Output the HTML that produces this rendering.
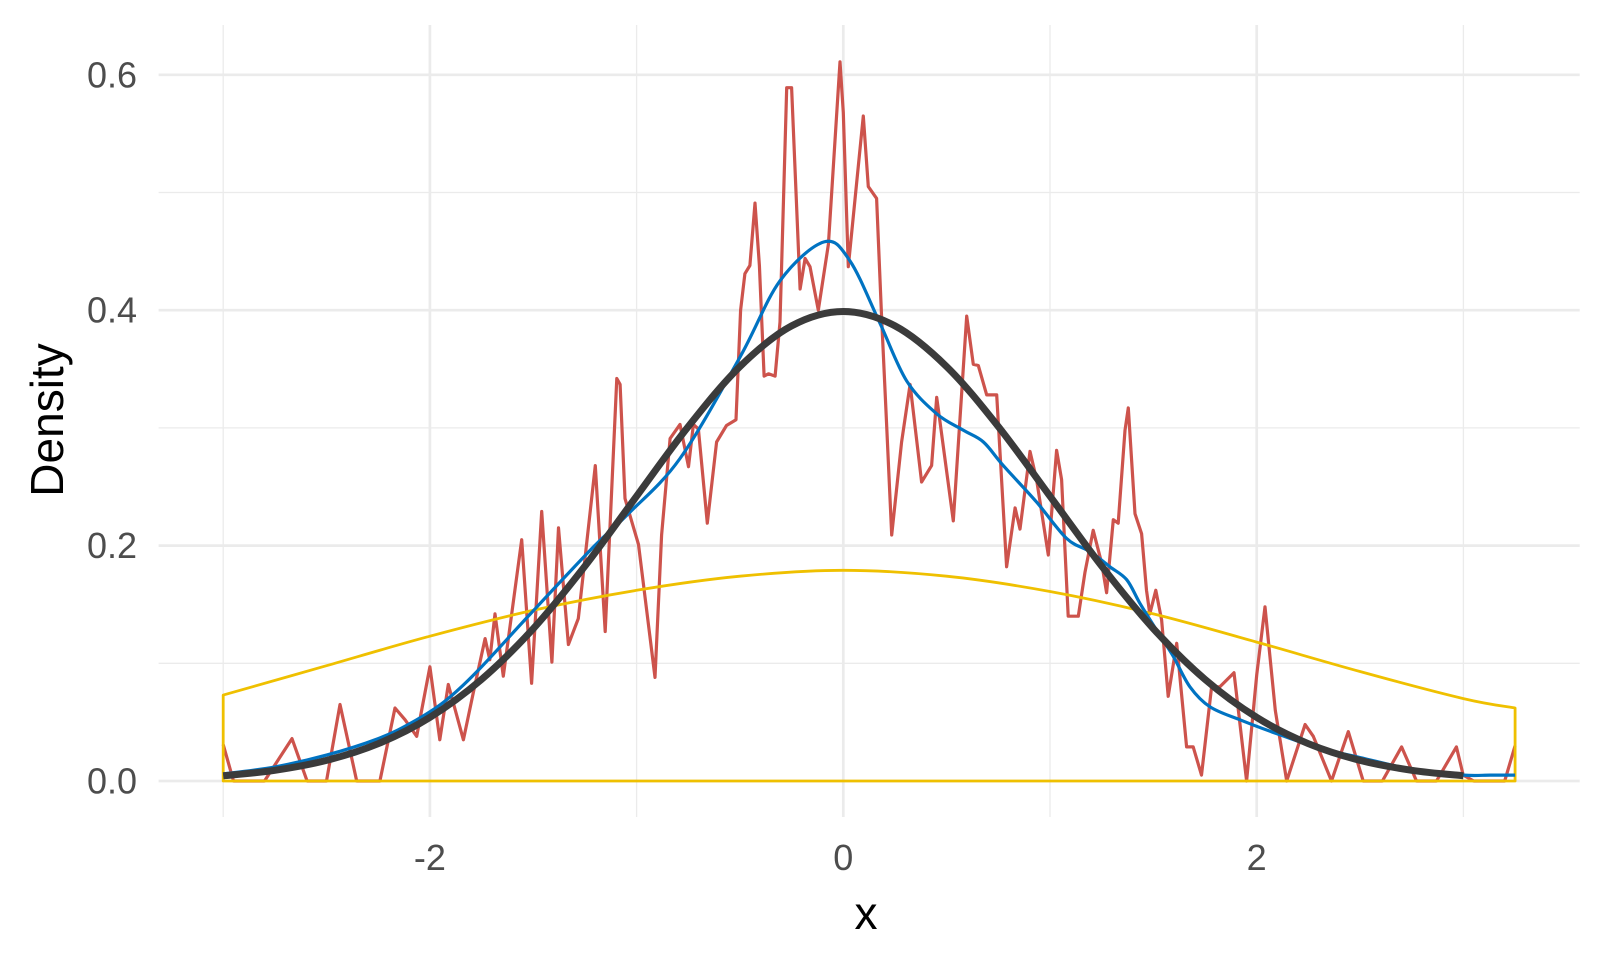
<!DOCTYPE html>
<html><head><meta charset="utf-8"><style>
html,body{margin:0;padding:0;background:#fff;}
svg{display:block;font-family:"Liberation Sans",sans-serif;}
</style></head><body>
<svg id="chart" width="1600" height="960" viewBox="0 0 1600 960" xmlns="http://www.w3.org/2000/svg">
<g id="grid"></g>
<g id="series"></g>
<g id="axes"></g>
<text x="0" y="0" transform="translate(63,420) rotate(-90)" text-anchor="middle" font-size="46" fill="#000">Density</text>
<text x="866" y="929" text-anchor="middle" font-size="46" fill="#000">x</text>
</svg>
<script>
const xTicksMajor=[-2,0,2];
const xTicksMinor=[-3,-1,1,3];
const yTicksMajor=[0,0.2,0.4,0.6];
const yTicksMinor=[0.1,0.3,0.5];
const xTickLabels=["-2","0","2"];
const yTickLabels=["0.0","0.2","0.4","0.6"];

const redX=[-3.0,-2.95,-2.8,-2.667,-2.594,-2.5,-2.435,-2.354,-2.242,-2.169,-2.12,-2.064,-2.0,-1.952,-1.911,-1.838,-1.79,-1.733,-1.71,-1.685,-1.645,-1.556,-1.508,-1.459,-1.41,-1.378,-1.33,-1.282,-1.2,-1.152,-1.096,-1.08,-1.056,-1.016,-0.991,-0.911,-0.879,-0.838,-0.79,-0.749,-0.725,-0.701,-0.658,-0.613,-0.565,-0.519,-0.497,-0.476,-0.452,-0.427,-0.406,-0.383,-0.362,-0.33,-0.306,-0.274,-0.25,-0.209,-0.185,-0.161,-0.121,-0.072,-0.016,0.0,0.024,0.097,0.121,0.161,0.185,0.209,0.234,0.282,0.323,0.379,0.427,0.452,0.532,0.597,0.629,0.653,0.694,0.742,0.79,0.831,0.855,0.903,0.935,0.992,1.032,1.056,1.088,1.137,1.169,1.209,1.25,1.274,1.306,1.33,1.363,1.379,1.411,1.443,1.467,1.483,1.512,1.54,1.572,1.613,1.661,1.693,1.733,1.782,1.822,1.89,1.951,2.0,2.04,2.09,2.145,2.234,2.274,2.362,2.443,2.515,2.608,2.701,2.773,2.87,2.966,2.999,3.05,3.2,3.25];
const redY=[0.031,0.0,0.0,0.036,0.0,0.0,0.065,0.0,0.0,0.062,0.052,0.038,0.097,0.035,0.082,0.035,0.075,0.121,0.103,0.142,0.089,0.205,0.083,0.229,0.101,0.215,0.116,0.138,0.268,0.127,0.342,0.337,0.24,0.216,0.201,0.088,0.209,0.291,0.303,0.267,0.303,0.299,0.219,0.288,0.302,0.307,0.4,0.431,0.438,0.491,0.438,0.344,0.346,0.344,0.39,0.589,0.589,0.418,0.444,0.437,0.4,0.456,0.611,0.568,0.437,0.565,0.505,0.495,0.396,0.305,0.209,0.288,0.337,0.254,0.268,0.326,0.221,0.395,0.354,0.353,0.328,0.328,0.182,0.232,0.214,0.28,0.256,0.192,0.281,0.256,0.14,0.14,0.177,0.213,0.185,0.16,0.222,0.219,0.298,0.317,0.227,0.21,0.162,0.142,0.162,0.137,0.072,0.117,0.029,0.029,0.005,0.08,0.08,0.092,0.0,0.09,0.148,0.06,0.0,0.048,0.038,0.0,0.042,0.0,0.0,0.029,0.0,0.0,0.029,0.005,0.0,0.0,0.03];

const blueX=[-3.0,-2.75,-2.5,-2.25,-2.094,-1.933,-1.772,-1.514,-1.208,-1.04,-0.79,-0.5,-0.306,-0.093,0.032,0.177,0.306,0.452,0.581,0.678,0.774,0.935,1.081,1.193,1.29,1.371,1.435,1.516,1.596,1.677,1.774,1.919,2.1,2.3,2.5,2.75,3.0,3.13,3.25];
const blueY=[0.006,0.012,0.022,0.036,0.049,0.067,0.093,0.142,0.199,0.227,0.274,0.36,0.425,0.458,0.442,0.389,0.34,0.312,0.298,0.288,0.268,0.237,0.206,0.195,0.182,0.171,0.151,0.128,0.106,0.08,0.063,0.052,0.04,0.028,0.02,0.01,0.005,0.005,0.005];

const yellowX=[-3.0,-2.5,-2.0,-1.5,-1.0,-0.5,0.0,0.5,1.0,1.5,2.0,2.5,3.0,3.25];
const yellowY=[0.073,0.098,0.123,0.145,0.162,0.174,0.179,0.174,0.161,0.142,0.118,0.093,0.07,0.062];

const normX=[-3,-2.75,-2.5,-2.25,-2,-1.75,-1.5,-1.25,-1,-0.75,-0.5,-0.25,0,0.25,0.5,0.75,1,1.25,1.5,1.75,2,2.25,2.5,2.75,3];
const normY=[0.0044,0.0091,0.0175,0.0317,0.054,0.0863,0.1295,0.1826,0.242,0.3011,0.3521,0.3867,0.3989,0.3867,0.3521,0.3011,0.242,0.1826,0.1295,0.0863,0.054,0.0317,0.0175,0.0091,0.0044];

const X0=843.3, XS=206.7, Y0=781, YS=1177;
const PL=158.6, PR=1579.7, PT=25, PB=817;
const sx=v=>X0+v*XS, sy=v=>Y0-v*YS;
const NS="http://www.w3.org/2000/svg";
function mk(tag,parent){const e=document.createElementNS(NS,tag);parent.appendChild(e);return e;}
const grid=document.getElementById('grid'), series=document.getElementById('series'), axes=document.getElementById('axes');

function gl(x1,y1,x2,y2,w){const l=mk('line',grid);l.setAttribute('x1',x1);l.setAttribute('y1',y1);l.setAttribute('x2',x2);l.setAttribute('y2',y2);l.setAttribute('stroke','#ebebeb');l.setAttribute('stroke-width',w);return l;}
yTicksMinor.forEach(v=>{const l=gl(PL,sy(v),PR,sy(v),1.3);

});
xTicksMinor.forEach(v=>{const l=gl(sx(v),PT,sx(v),PB,1.3);

});
yTicksMajor.forEach(v=>{const l=gl(PL,sy(v),PR,sy(v),2.7);

});
xTicksMajor.forEach(v=>{const l=gl(sx(v),PT,sx(v),PB,2.7);

});

yTicksMajor.forEach((v,i)=>{const t=mk('text',axes);t.textContent=yTickLabels[i];
t.setAttribute('x',137);t.setAttribute('y',sy(v)+12.5);t.setAttribute('text-anchor','end');t.setAttribute('font-size','36');t.setAttribute('fill','#4d4d4d');

});
xTicksMajor.forEach((v,i)=>{const t=mk('text',axes);t.textContent=xTickLabels[i];
t.setAttribute('x',sx(v));t.setAttribute('y',870);t.setAttribute('text-anchor','middle');t.setAttribute('font-size','36');t.setAttribute('fill','#4d4d4d');

});

function lin(xs,ys){return xs.map((x,i)=>(i?'L':'M')+sx(x).toFixed(1)+','+sy(ys[i]).toFixed(1)).join('');}
function smooth(xs,ys){const p=xs.map((x,i)=>[sx(x),sy(ys[i])]);let d='M'+p[0][0]+','+p[0][1];
for(let i=0;i<p.length-1;i++){const p0=p[i-1]||p[i],p1=p[i],p2=p[i+1],p3=p[i+2]||p2;
const c1=[p1[0]+(p2[0]-p0[0])/6,p1[1]+(p2[1]-p0[1])/6],c2=[p2[0]-(p3[0]-p1[0])/6,p2[1]-(p3[1]-p1[1])/6];
d+='C'+c1[0].toFixed(1)+','+c1[1].toFixed(1)+' '+c2[0].toFixed(1)+','+c2[1].toFixed(1)+' '+p2[0].toFixed(1)+','+p2[1].toFixed(1);}return d;}
function path(d,color,w,fill){const e=mk('path',series);e.setAttribute('d',d);e.setAttribute('stroke',color);e.setAttribute('stroke-width',w);e.setAttribute('fill',fill||'none');e.setAttribute('stroke-linejoin','round');e.setAttribute('stroke-linecap','butt');return e;}

const red=path(lin(redX,redY),'#cd534c',3.2);


const yd=smooth(yellowX,yellowY)+'L'+sx(yellowX[yellowX.length-1])+','+sy(0)+'L'+sx(yellowX[0])+','+sy(0)+'Z';
const yel=path(yd,'#efc000',2.8);


const blue=path(smooth(blueX,blueY),'#0073c2',3.2);


const blk=path(smooth(normX,normY),'#3b3b3b',7);


</script>
</body></html>
